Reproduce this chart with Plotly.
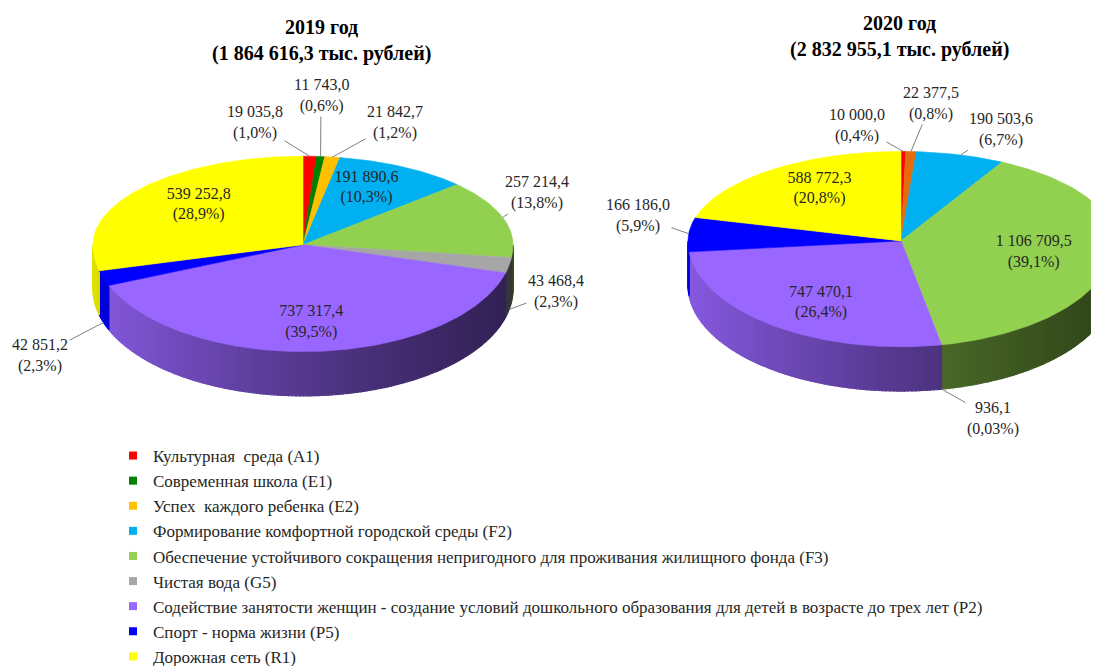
import math
import plotly.graph_objects as go

# ---------------- data ----------------
labels = [
    "Культурная  среда (A1)",
    "Современная школа (E1)",
    "Успех  каждого ребенка (E2)",
    "Формирование комфортной городской среды (F2)",
    "Обеспечение устойчивого сокращения непригодного для проживания жилищного фонда (F3)",
    "Чистая вода (G5)",
    "Содействие занятости женщин - создание условий дошкольного образования для детей в возрасте до трех лет (P2)",
    "Спорт - норма жизни (P5)",
    "Дорожная сеть (R1)",
]
values_2019 = [19035.8, 11743.0, 21842.7, 191890.6, 257214.4, 43468.4, 737317.4, 42851.2, 539252.8]
values_2020 = [10000.0, 0.0, 22377.5, 190503.6, 1106709.5, 936.1, 747470.1, 166186.0, 588772.3]
pct_2019 = ["1,0%", "0,6%", "1,2%", "10,3%", "13,8%", "2,3%", "39,5%", "2,3%", "28,9%"]
pct_2020 = ["0,4%", "", "0,8%", "6,7%", "39,1%", "0,03%", "26,4%", "5,9%", "20,8%"]
titles = ["<b>2019 год<br>(1 864 616,3 тыс. рублей)</b>",
          "<b>2020 год<br>(2 832 955,1 тыс. рублей)</b>"]

# ---------------- styles / layout ----------------
colors_2019 = ["#FF0000", "#008000", "#FFC000", "#00B0F0", "#92D050", "#A6A6A6", "#9966FF", "#0000FF", "#FFFF00"]
colors_2020 = ["#FF0000", "#008000", "#E46C0A", "#00B0F0", "#92D050", "#A6A6A6", "#9966FF", "#0000FF", "#FFFF00"]
# label placement: None -> inside the slice, (x, y) -> outside label centre (pixels)
label_pos_2019 = [(255, 119), (321, 91), (395, 119), None, (537, 192), (556, 295), None, (40, 361), None]
label_pos_2020 = [(857, 122), None, (931, 99), (1001, 126), None, (993, 426), None, (638, 216), None]
pies = [
    dict(values=values_2019, pct=pct_2019, colors=colors_2019, pos=label_pos_2019,
         cx=303, cy=246, rx=210, ryb=92, ryf=111, depth=46, title=titles[0], tx=321, ty=34),
    dict(values=values_2020, pct=pct_2020, colors=colors_2020, pos=label_pos_2020,
         cx=901, cy=242, rx=213, ryb=93, ryf=110, depth=46, title=titles[1], tx=899, ty=30),
]

FONT = "Liberation Serif, Times New Roman, serif"
TXT = "#262626"
W, H = 1099, 666
OFF = 8  # page offset of the figure inside the browser page


def fmt(v):
    return f"{v:,.1f}".replace(",", " ").replace(".", ",")


def shade(hexc, f):
    r, g, b = int(hexc[1:3], 16), int(hexc[3:5], 16), int(hexc[5:7], 16)
    return "rgb(%d,%d,%d)" % (int(r * f), int(g * f), int(b * f))


fig = go.Figure()

for p in pies:
    cx, cy, rx, ryb, ryf, depth = p["cx"], p["cy"], p["rx"], p["ryb"], p["ryf"], p["depth"]

    def pt(t):
        a = math.radians(t)
        c = math.cos(a)
        ry = ryb if c >= 0 else ryf
        return cx + rx * math.sin(a), cy - ry * c

    total = sum(p["values"])
    bounds = []
    cum = 0.0
    for v in p["values"]:
        bounds.append((cum / total * 360.0, (cum + v) / total * 360.0))
        cum += v

    # side walls (front half), shaded left-to-right
    for (a, b), v, col in zip(bounds, p["values"], p["colors"]):
        if v <= 0:
            continue
        s, e = max(a, 90.0), min(b, 270.0)
        if e <= s:
            continue
        n = max(1, math.ceil((e - s) / 1.0))
        for i in range(n):
            t0 = s + (e - s) * i / n
            t1 = s + (e - s) * (i + 1) / n
            top = [pt(t) for t in (t0, (t0 + t1) / 2, t1)]
            bot = [(x, y + depth) for x, y in reversed(top)]
            poly = top + bot + [top[0]]
            xm = sum(q[0] for q in top) / 3
            u = (xm - (cx - rx)) / (2 * rx)
            f = 0.88 - 0.75 * u + 0.2 * u * u
            c = shade(col, f)
            fig.add_trace(go.Scatter(
                x=[q[0] for q in poly], y=[q[1] for q in poly], mode="lines",
                fill="toself", fillcolor=c, line=dict(color=c, width=1.2),
                hoverinfo="skip", showlegend=False))

    # top faces
    for (a, b), v, col, lab in zip(bounds, p["values"], p["colors"], labels):
        if v <= 0:
            continue
        n = max(2, math.ceil(b - a) + 1)
        arc = [pt(a + (b - a) * i / (n - 1)) for i in range(n)]
        poly = [(cx, cy)] + arc + [(cx, cy)]
        fig.add_trace(go.Scatter(
            x=[q[0] for q in poly], y=[q[1] for q in poly], mode="lines",
            fill="toself", fillcolor=col, line=dict(color=col, width=0.6),
            name=lab, hoverinfo="name", showlegend=False))

    # labels
    in_x, in_y, in_t = [], [], []
    for (a, b), v, pc, pos in zip(bounds, p["values"], p["pct"], p["pos"]):
        if v <= 0:
            continue
        m = (a + b) / 2
        txt = f"{fmt(v)}<br>({pc})"
        if pos is None:
            am = math.radians(m)
            c = math.cos(am)
            ry = ryb if c >= 0 else ryf
            in_x.append(cx + rx * math.sin(am) * 0.63)
            in_y.append(cy - ry * c * 0.73)
            in_t.append(txt)
        else:
            ax_, ay_ = pt(m)
            if 90 < m < 270:
                ay_ += depth
            fig.add_annotation(
                x=ax_, y=ay_, xref="x", yref="y", ax=pos[0], ay=pos[1], axref="x", ayref="y",
                text=txt, showarrow=True, arrowhead=0, arrowwidth=1, arrowcolor="#7F7F7F",
                standoff=0, startstandoff=0,
                font=dict(family=FONT, size=16, color=TXT), align="center")
    fig.add_trace(go.Scatter(
        x=in_x, y=in_y, text=in_t, mode="text", textposition="middle center",
        textfont=dict(family=FONT, size=16, color=TXT), hoverinfo="skip", showlegend=False))

    fig.add_annotation(x=p["tx"], y=p["ty"], xref="x", yref="y", text=p["title"],
                       showarrow=False, xanchor="center", yanchor="middle",
                       font=dict(family=FONT, size=20, color="#000000"))

# legend entries
for i, (lab, col) in enumerate(zip(labels, colors_2019)):
    fig.add_trace(go.Scatter(
        x=[None], y=[None], mode="markers", name=lab, legendgroup=f"g{i}",
        marker=dict(symbol="square", size=8, color=col)))

fig.update_layout(
    width=W, height=H,
    margin=dict(l=0, r=0, t=0, b=0),
    paper_bgcolor="white", plot_bgcolor="white",
    font=dict(family=FONT, size=16, color=TXT),
    xaxis=dict(range=[OFF, W + OFF], visible=False, fixedrange=True),
    yaxis=dict(range=[H, 0], visible=False, fixedrange=True),
    legend=dict(x=(113 - OFF) / W, y=1 - 447 / H, xanchor="left", yanchor="top",
                font=dict(family=FONT, size=17, color=TXT),
                bgcolor="rgba(0,0,0,0)", traceorder="grouped", tracegroupgap=0,
                itemwidth=30),
    showlegend=True,
)
fig.write_html("out.html")
